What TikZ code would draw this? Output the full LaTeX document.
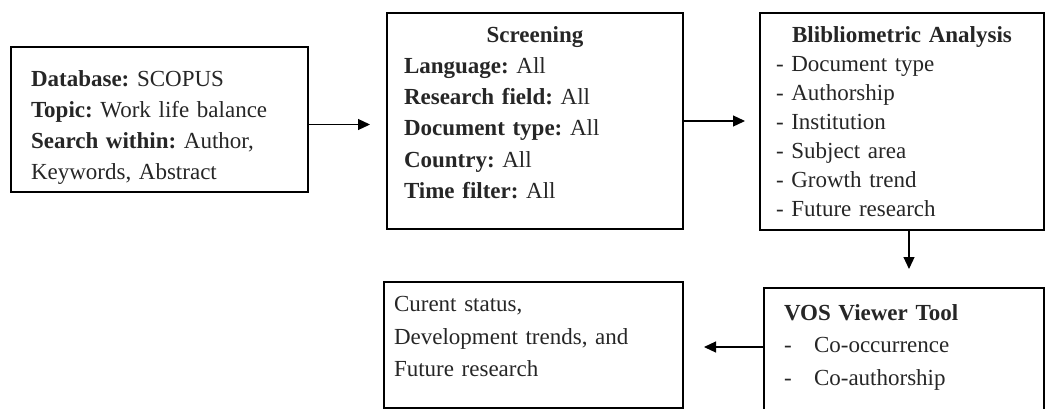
\documentclass[tikz,border=0pt]{standalone}
\usepackage{fontspec}
\setmainfont{Liberation Serif}
\usepackage{tikz}
\usetikzlibrary{arrows.meta,positioning,calc}
\frenchspacing

\begin{document}
\begin{tikzpicture}[x=1pt,y=-1pt,>={Triangle[length=12pt,width=11pt]},
  font=\fontsize{23}{30.7}\selectfont,
  box/.style={draw,line width=2pt,anchor=north west,align=left,inner ysep=0pt,text=black!85},
  a/.style={->,line width=1.2pt}]
  \useasboundingbox (0,0) rectangle (1046,408);
  \node[box,minimum width=297pt,minimum height=145pt,inner xsep=20pt,text width=257pt] (db) at (10,46)
    {\rule{0pt}{32pt}\textbf{Database:} SCOPUS\\\textbf{Topic:} Work life balance\\\textbf{Search within:} Author,\\Keywords, Abstract};
  \node[box,minimum width=296pt,minimum height=216pt,inner xsep=17pt,text width=262pt,
    font=\fontsize{23}{31.2}\selectfont] (scr) at (386,12)
    {\makebox[262pt]{\textbf{Screening}}\\\textbf{Language:} All\\\textbf{Research field:} All\\\textbf{Document type:} All\\\textbf{Country:} All\\\textbf{Time filter:} All\\[-23pt]\strut};
  \node[box,minimum width=284pt,minimum height=217pt,inner xsep=16pt,text width=252pt,
    font=\fontsize{23}{29}\selectfont] (ana) at (759,12)
    {\makebox[252pt]{\textbf{Blibliometric Analysis}}\\- Document type\\- Authorship\\- Institution\\- Subject area\\- Growth trend\\- Future research};
  \node[box,minimum width=299pt,minimum height=126pt,inner xsep=10pt,text width=279pt,
    font=\fontsize{23}{32.5}\selectfont] (res) at (383,281)
    {Curent status,\\Development trends, and\\Future research\\[-26pt]\strut};
  \node[box,minimum width=280pt,minimum height=128pt,inner xsep=20pt,text width=240pt,
    font=\fontsize{23}{32.5}\selectfont] (vos) at (763,287)
    {\textbf{VOS Viewer Tool}\\\makebox[30pt][l]{-}Co-occurrence\\\makebox[30pt][l]{-}Co-authorship\\[-28pt]\strut};
  \draw[a,shorten >=16pt] ([yshift=-5pt]db.east) -- ([yshift=-5pt]db.east -| scr.west);
  \draw[a,shorten >=14pt] (scr.east) -- (scr.east -| ana.west);
  \draw[a,shorten >=18pt] ([xshift=7pt]ana.south) -- ([xshift=7pt]ana.south |- vos.north);
  \draw[a,shorten >=20pt] ([yshift=5pt]vos.west) -- ([yshift=5pt]vos.west -| res.east);
\end{tikzpicture}
\end{document}
